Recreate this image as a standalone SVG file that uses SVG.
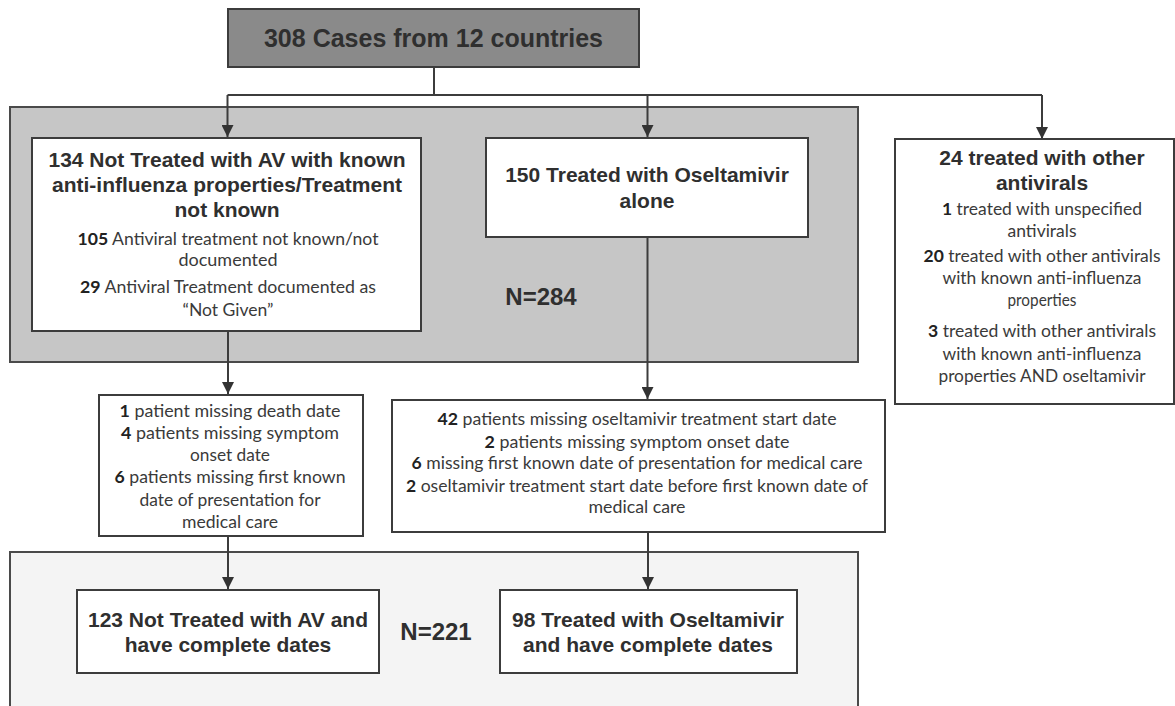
<svg xmlns="http://www.w3.org/2000/svg" width="1175" height="706" viewBox="0 0 1175 706">
<style>
.bg{fill:#ffffff}
.panel1{fill:#c6c6c6;stroke:#4a4a4a;stroke-width:2}
.panel2{fill:#f4f4f4;stroke:#4a4a4a;stroke-width:2}
.top{fill:#8a8a8a;stroke:#3c3c3c;stroke-width:2}
.box{fill:#ffffff;stroke:#3c3c3c;stroke-width:2}
.t{font-family:"Liberation Sans",Arial,sans-serif;font-weight:bold;font-size:21px;fill:#2f2f2f;text-anchor:middle}
.big{font-size:25px}
.n{font-size:24px}
.s{font-family:Lato,"Open Sans",sans-serif;font-size:17px;fill:#3a3a3a;text-anchor:middle}
.b{font-weight:bold;fill:#222}
.c{fill:none;stroke:#3c3c3c;stroke-width:2}
</style>
<defs>
<marker id="arr" markerUnits="userSpaceOnUse" markerWidth="12" markerHeight="12" refX="12" refY="6" orient="auto">
<path d="M0,0 L12,6 L0,12 z" fill="#333"/>
</marker>
</defs>
<rect class="bg" x="0" y="0" width="1175" height="706"/>

<g id="panel-n284">
<rect class="panel1" x="10" y="107" width="848" height="255"/>
<text class="t n" x="541" y="305">N=284</text>
</g>
<g id="panel-n221">
<rect class="panel2" x="10" y="552" width="848" height="170"/>
<text class="t n" x="436" y="640">N=221</text>
</g>

<g id="connectors">
<path class="c" d="M434,67 V95"/>
<path class="c" d="M227.5,95 H1042"/>
<path class="c" d="M227.5,95 V137" marker-end="url(#arr)"/>
<path class="c" d="M647.5,95 V137" marker-end="url(#arr)"/>
<path class="c" d="M1042,95 V139" marker-end="url(#arr)"/>
<path class="c" d="M228,331 V394" marker-end="url(#arr)"/>
<path class="c" d="M647.5,237 V399" marker-end="url(#arr)"/>
<path class="c" d="M228,536 V589" marker-end="url(#arr)"/>
<path class="c" d="M648,532 V589" marker-end="url(#arr)"/>
</g>

<g id="node-total">
<rect class="top" x="228" y="9" width="411" height="58"/>
<text class="t big" x="433.5" y="47">308 Cases from 12 countries</text>
</g>

<g id="node-not-treated">
<rect class="box" x="32" y="138" width="389" height="193"/>
<text class="t" x="227" y="167">134 Not Treated with AV with known</text>
<text class="t" x="227" y="192">anti-influenza properties/Treatment</text>
<text class="t" x="227" y="217">not known</text>
<text class="s" x="228" y="245" textLength="301" lengthAdjust="spacingAndGlyphs"><tspan class="b">105</tspan> Antiviral treatment not known/not</text>
<text class="s" x="228" y="266" textLength="99" lengthAdjust="spacingAndGlyphs">documented</text>
<text class="s" x="228" y="293" textLength="296" lengthAdjust="spacingAndGlyphs"><tspan class="b">29</tspan> Antiviral Treatment documented as</text>
<text class="s" x="228" y="316" textLength="91" lengthAdjust="spacingAndGlyphs">“Not Given”</text>
</g>

<g id="node-oseltamivir">
<rect class="box" x="486" y="138" width="322" height="99"/>
<text class="t" x="647" y="182">150 Treated with Oseltamivir</text>
<text class="t" x="647" y="208">alone</text>
</g>

<g id="node-other">
<rect class="box" x="895" y="139" width="279" height="265"/>
<text class="t" x="1042" y="165">24 treated with other</text>
<text class="t" x="1042" y="190">antivirals</text>
<text class="s" x="1042" y="215" textLength="200" lengthAdjust="spacingAndGlyphs"><tspan class="b">1</tspan> treated with unspecified</text>
<text class="s" x="1042" y="237" textLength="69" lengthAdjust="spacingAndGlyphs">antivirals</text>
<text class="s" x="1042" y="262" textLength="237" lengthAdjust="spacingAndGlyphs"><tspan class="b">20</tspan> treated with other antivirals</text>
<text class="s" x="1042" y="284" textLength="199" lengthAdjust="spacingAndGlyphs">with known anti-influenza</text>
<text class="s" x="1042" y="306" textLength="69" lengthAdjust="spacingAndGlyphs">properties</text>
<text class="s" x="1042" y="337" textLength="228" lengthAdjust="spacingAndGlyphs"><tspan class="b">3</tspan> treated with other antivirals</text>
<text class="s" x="1042" y="360" textLength="199" lengthAdjust="spacingAndGlyphs">with known anti-influenza</text>
<text class="s" x="1042" y="382" textLength="207" lengthAdjust="spacingAndGlyphs">properties AND oseltamivir</text>
</g>

<g id="node-missing-left">
<rect class="box" x="99" y="395" width="264" height="141"/>
<text class="s" x="230" y="417" textLength="221" lengthAdjust="spacingAndGlyphs"><tspan class="b">1</tspan> patient missing death date</text>
<text class="s" x="230" y="439" textLength="218" lengthAdjust="spacingAndGlyphs"><tspan class="b">4</tspan> patients missing symptom</text>
<text class="s" x="230" y="461" textLength="80" lengthAdjust="spacingAndGlyphs">onset date</text>
<text class="s" x="230" y="483" textLength="231" lengthAdjust="spacingAndGlyphs"><tspan class="b">6</tspan> patients missing first known</text>
<text class="s" x="230" y="506" textLength="181" lengthAdjust="spacingAndGlyphs">date of presentation for</text>
<text class="s" x="230" y="528" textLength="96" lengthAdjust="spacingAndGlyphs">medical care</text>
</g>

<g id="node-missing-right">
<rect class="box" x="392" y="400" width="493" height="132"/>
<text class="s" x="637" y="425" textLength="399" lengthAdjust="spacingAndGlyphs"><tspan class="b">42</tspan> patients missing oseltamivir treatment start date</text>
<text class="s" x="637" y="448" textLength="305" lengthAdjust="spacingAndGlyphs"><tspan class="b">2</tspan> patients missing symptom onset date</text>
<text class="s" x="637" y="469" textLength="451" lengthAdjust="spacingAndGlyphs"><tspan class="b">6</tspan> missing first known date of presentation for medical care</text>
<text class="s" x="637" y="492" textLength="462" lengthAdjust="spacingAndGlyphs"><tspan class="b">2</tspan> oseltamivir treatment start date before first known date of</text>
<text class="s" x="637" y="513" textLength="97" lengthAdjust="spacingAndGlyphs">medical care</text>
</g>

<g id="node-complete-not-treated">
<rect class="box" x="77" y="590" width="302" height="83"/>
<text class="t" x="228" y="627">123 Not Treated with AV and</text>
<text class="t" x="228" y="652">have complete dates</text>
</g>

<g id="node-complete-oseltamivir">
<rect class="box" x="500" y="590" width="297" height="83"/>
<text class="t" x="648" y="627">98 Treated with Oseltamivir</text>
<text class="t" x="648" y="652">and have complete dates</text>
</g>
</svg>
